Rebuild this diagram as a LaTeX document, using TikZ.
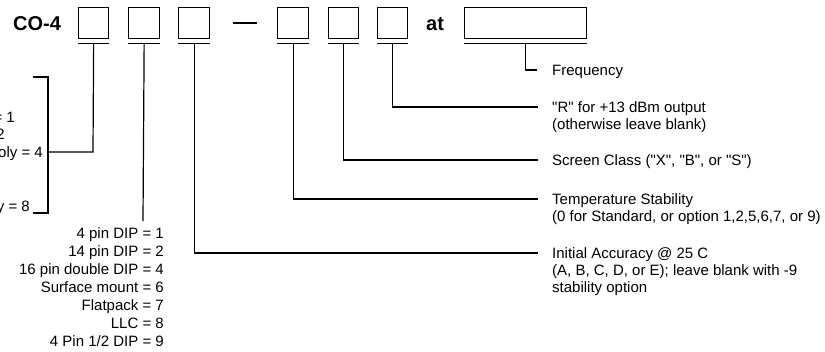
\documentclass[tikz,border=0pt]{standalone}
\usepackage{fontspec}
\setmainfont{Liberation Sans}[Ligatures=TeXOff]
\begin{document}
\begin{tikzpicture}[x=1pt,y=-1pt,
  box/.style={draw,line width=1.3pt,minimum height=31pt,inner sep=0pt,anchor=north west},
  lead/.style={line width=1.2pt},
  title/.style={font=\fontsize{20}{22}\selectfont\bfseries,anchor=base west,inner sep=0pt},
  lbl/.style={font=\fontsize{15}{17}\selectfont,anchor=base west,align=left,inner sep=0pt},
  opt/.style={font=\fontsize{15}{18}\selectfont,anchor=base east,align=right,inner sep=0pt}]
\useasboundingbox (0,0) rectangle (825,351);
\clip (0,0) rectangle (825,351);

% title pieces
\node[title] (co) at (13,30.3) {CO-4};
\node[title] (at) at (426,30.3) {at};

% boxes
\node[box,minimum width=30pt] (b1) at (78,7) {};
\node[box,minimum width=31pt] (b2) at (128,7) {};
\node[box,minimum width=31pt] (b3) at (178,7) {};
\node[box,minimum width=31pt] (b4) at (277,7) {};
\node[box,minimum width=30pt] (b5) at (328,7) {};
\node[box,minimum width=30pt] (b6) at (377,7) {};
\node[box,minimum width=122pt] (bf) at (464,7) {};

% dash
\coordinate (d1) at (233,23);
\coordinate (d2) at (257,23);
\draw[lead] (d1) -- (d2);

% underlines and their midpoints
\foreach \b in {b1,b2,b3,b4,b5,b6,bf}{
  \draw[lead] ([yshift=-4pt]\b.south west) -- ([yshift=-4pt]\b.south east);
  \coordinate (\b u) at ([yshift=-4pt]\b.south);
}

% labels on the right (base anchor = baseline of last line)
\node[lbl] (freq) at (552,75.5) {Frequency};
\node[lbl] (rout) at (552,129.5) {"R" for +13 dBm output\\(otherwise leave blank)};
\node[lbl] (scr) at (552,165) {Screen Class ("X", "B", or "S")};
\node[lbl] (temp) at (552,221) {Temperature Stability\\(0 for Standard, or option 1,2,5,6,7, or 9)};
\node[lbl] (acc) at (552,292) {Initial Accuracy @ 25 C\\(A, B, C, D, or E); leave blank with -9\\stability option};

% package list
\node[opt] (pkg) at (164,346.5) {4 pin DIP = 1\\14 pin DIP = 2\\16 pin double DIP = 4\\Surface mount = 6\\Flatpack = 7\\LLC = 8\\4 Pin 1/2 DIP = 9};

% cut-off list on the left
\node[opt] (s1) at (15,122.5) {= 1};
\node[opt] (s2) at (5,139.5) {2};
\node[opt] (s3) at (43,157.5) {oly = 4};
\node[opt] (s6) at (30,211.5) {y = 8};

% bracket
\coordinate (brt) at (33,77);
\coordinate (brb) at (33,213);
\coordinate (brm) at (48,152);
\draw[lead] (brt) -| (brm) |- (brb);

% connectors
\coordinate (e1) at (93,152);
\draw[lead] (b1u) -- (e1) -- (brm);
\coordinate (e2) at (143,221);
\draw[lead] (b2u) -- (e2);
\coordinate (c3) at (538,253);
\coordinate (c4) at (538,199);
\coordinate (c5) at (538,160);
\coordinate (c6) at (538,107);
\coordinate (cf) at (537,70);
\draw[lead] (b3u) |- (c3);
\draw[lead] (b4u) |- (c4);
\draw[lead] (b5u) |- (c5);
\draw[lead] (b6u) |- (c6);
\draw[lead] (bfu) |- (cf);
\end{tikzpicture}
\end{document}
